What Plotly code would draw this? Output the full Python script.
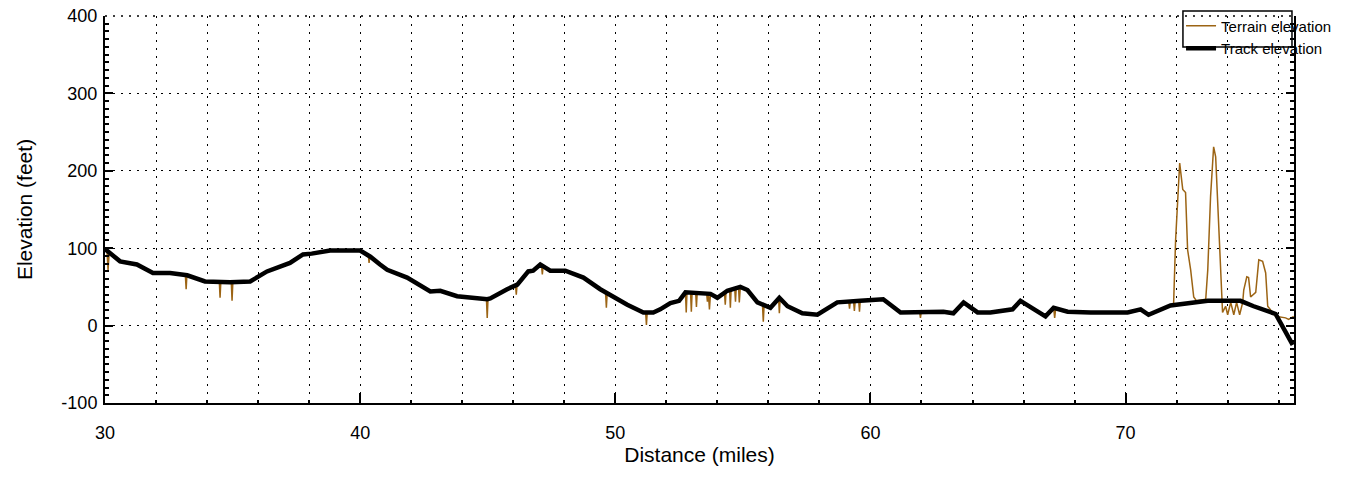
import plotly.graph_objects as go

# Track elevation (thick black line)
track_miles = [30.0, 30.59, 31.25, 31.88, 32.55, 33.22, 33.92, 34.9, 35.69, 36.35, 37.25, 37.76, 38.1,
               38.82, 40.0, 40.4, 40.78, 41.06, 41.84, 42.75, 43.14, 43.8, 44.98, 45.1, 45.76, 46.16,
               46.59, 46.78, 47.06, 47.45, 48.04, 48.75, 49.41, 50.47, 51.1, 51.49, 51.76, 52.16, 52.5,
               52.75, 53.73, 54.0, 54.39, 54.9, 55.18, 55.57, 56.08, 56.43, 56.75, 57.33, 57.92, 58.7,
               59.6, 60.5, 61.18, 62.24, 62.86, 63.25, 63.65, 64.2, 64.7, 65.57, 65.88, 66.86, 67.18,
               67.73, 68.63, 70.08, 70.59, 70.9, 71.76, 73.22, 74.5, 75.02, 75.88, 76.55]
track_feet = [99, 83, 79, 68, 68, 65, 57, 56, 57, 70, 81, 92, 93,
              97, 97, 89, 79, 72, 62, 44, 45, 38, 34, 35, 47, 53,
              70, 71, 79, 71, 71, 62, 47, 27, 17, 17, 21, 29, 32,
              43, 41, 36, 45, 50, 46, 30, 23, 36, 25, 16, 14, 30,
              32, 34, 17, 17, 18, 16, 30, 17, 17, 21, 32, 12, 23,
              18, 17, 17, 21, 14, 26, 32, 32, 25, 15, -25]

# Terrain elevation (thin brown line)
terrain_miles = [30.0, 30.08, 30.12, 30.16, 30.59, 31.25, 31.88, 32.55, 33.15, 33.18, 33.21, 33.92,
                 34.48, 34.51, 34.54, 34.95, 34.98, 35.01, 35.69, 36.35, 37.25, 37.76, 38.1, 38.82,
                 40.0, 40.32, 40.35, 40.38, 40.78, 41.06, 41.84, 42.75, 43.14, 43.8, 44.95, 44.98,
                 45.01, 45.1, 45.76, 46.09, 46.12, 46.15, 46.59, 46.78, 47.06, 47.11, 47.14, 47.17,
                 47.45, 48.04, 48.75, 49.41, 49.62, 49.65, 49.68, 50.47, 51.1, 51.19, 51.22, 51.25,
                 51.49, 51.76, 52.16, 52.5, 52.75, 52.78, 52.81, 52.95, 52.98, 53.01, 53.15, 53.18,
                 53.21, 53.58, 53.61, 53.65, 53.69, 53.73, 54.0, 54.28, 54.31, 54.34, 54.48, 54.51,
                 54.54, 54.68, 54.71, 54.74, 54.83, 54.86, 54.9, 55.18, 55.57, 55.77, 55.8, 55.83,
                 56.08, 56.4, 56.43, 56.46, 56.75, 57.33, 57.92, 58.7, 59.15, 59.18, 59.21, 59.34,
                 59.37, 59.4, 59.54, 59.57, 59.6, 60.5, 61.18, 61.93, 61.96, 61.99, 62.24, 62.86,
                 63.25, 63.65, 64.2, 64.7, 65.57, 65.88, 66.86, 67.18, 67.22, 67.26, 67.73, 68.63,
                 70.08, 70.59, 70.9, 71.76, 71.88, 71.96, 72.12, 72.24, 72.35, 72.43, 72.55, 72.67,
                 72.78, 73.14, 73.22, 73.33, 73.45, 73.53, 73.65, 73.8, 73.92, 74.0, 74.12, 74.24,
                 74.35, 74.47, 74.59, 74.63, 74.75, 74.82, 74.9, 75.1, 75.22, 75.37, 75.49, 75.57,
                 75.88, 76.27, 76.39, 76.59]
terrain_feet = [99, 96, 72, 93, 83, 79, 68, 68, 65, 47, 65, 57,
                57, 36, 57, 56, 32, 56, 57, 70, 81, 92, 93, 97,
                97, 91, 81, 90, 79, 72, 62, 44, 45, 38, 34, 10,
                34, 35, 47, 52, 40, 53, 70, 71, 79, 77, 66, 76,
                71, 71, 62, 47, 42, 23, 41, 27, 17, 17, 1, 17,
                17, 21, 29, 32, 43, 17, 43, 43, 18, 43, 43, 24,
                43, 42, 31, 42, 21, 41, 36, 42, 27, 43, 46, 23,
                47, 48, 31, 49, 50, 30, 50, 46, 30, 26, 5, 25,
                23, 35, 16, 34, 25, 16, 14, 30, 31, 22, 31, 31,
                19, 31, 32, 18, 32, 34, 17, 17, 10, 17, 17, 18,
                16, 30, 17, 17, 21, 32, 12, 23, 10, 22, 18, 17,
                17, 21, 14, 26, 27, 111, 210, 176, 172, 98, 72, 37,
                32, 34, 72, 167, 231, 218, 124, 17, 25, 14, 30, 14,
                30, 14, 30, 46, 63, 62, 37, 43, 85, 83, 68, 25,
                12, 10, 8, 12]

x_ticks = [30, 40, 50, 60, 70]
y_ticks = [-100, 0, 100, 200, 300, 400]

FONT = "Liberation Sans, Arial, Helvetica, sans-serif"
DOT = "2px,6px"

fig = go.Figure()
fig.add_trace(go.Scatter(x=terrain_miles, y=terrain_feet, mode="lines",
                         name="Terrain elevation",
                         line=dict(color="#9c6414", width=1.5)))
fig.add_trace(go.Scatter(x=track_miles, y=track_feet, mode="lines",
                         name="Track elevation",
                         line=dict(color="black", width=4.5)))

fig.update_layout(
    width=1345, height=477,
    margin=dict(l=105, r=51, t=16, b=74, autoexpand=False),
    paper_bgcolor="white", plot_bgcolor="white",
    font=dict(family=FONT, size=18, color="black"),
    showlegend=True,
    legend=dict(x=0.905, y=1.017, xanchor="left", yanchor="top",
                bgcolor="rgba(0,0,0,0)", borderwidth=0,
                font=dict(size=15, family=FONT), tracegroupgap=0,
                itemwidth=30),
    shapes=[
        dict(type="rect", xref="paper", yref="paper",
             x0=0.9066, x1=0.9983, y0=0.9199, y1=1.013,
             line=dict(color="black", width=1.5), fillcolor="rgba(0,0,0,0)"),
        dict(type="line", xref="paper", yref="paper", x0=0, x1=1, y0=1, y1=1,
             line=dict(color="black", width=1.5, dash=DOT)),
    ],
)

fig.update_xaxes(
    range=[30, 76.6], tickvals=x_ticks, ticktext=[str(v) for v in x_ticks],
    automargin=False, ticklabeloverflow="allow",
    showline=True, linecolor="black", linewidth=2, mirror=False,
    ticks="inside", ticklen=10, tickwidth=1.5, tickcolor="black",
    ticklabelstandoff=12,
    showgrid=True, gridcolor="black", gridwidth=1, griddash=DOT,
    zeroline=False,
    minor=dict(dtick=2, tick0=30, ticks="inside", ticklen=3, tickcolor="black",
               showgrid=True, gridcolor="black", gridwidth=1, griddash=DOT),
    title=dict(text="Distance (miles)", font=dict(size=21), standoff=6),
    tickfont=dict(size=18),
)
fig.update_yaxes(
    range=[-100, 400], tickvals=y_ticks, ticktext=[str(v) for v in y_ticks],
    automargin=False, ticklabeloverflow="allow",
    showline=True, linecolor="black", linewidth=2, mirror="ticks",
    ticks="inside", ticklen=8, tickwidth=1.5, tickcolor="black",
    ticklabelstandoff=2,
    showgrid=True, gridcolor="black", gridwidth=1, griddash=DOT,
    zeroline=False,
    minor=dict(dtick=10, ticks="inside", ticklen=4, tickcolor="black", showgrid=False),
    title=dict(text="Elevation (feet)", font=dict(size=21), standoff=23),
    tickfont=dict(size=18),
)

# remove the default 8px page margin so the figure fills the window exactly
fig.write_html("out.html", config={"displayModeBar": False},
               post_script="document.body.style.margin='0';")
